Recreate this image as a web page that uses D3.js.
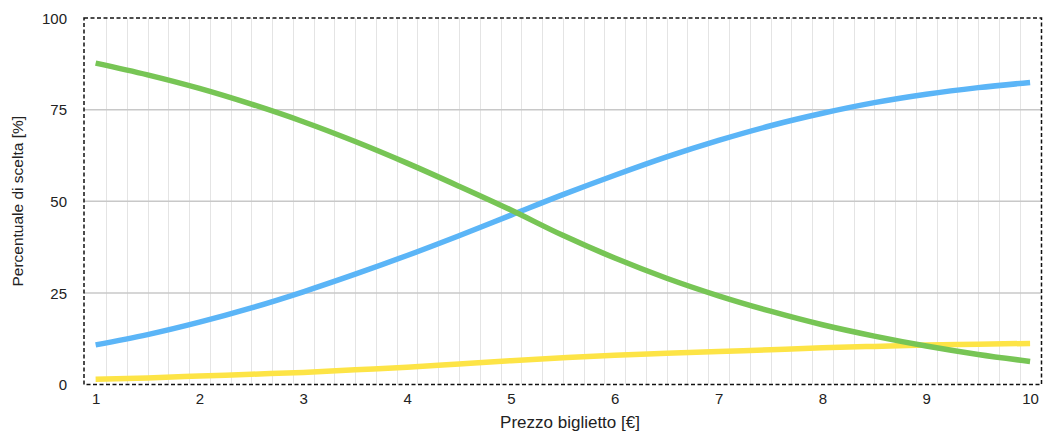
<!DOCTYPE html>
<html>
<head>
<meta charset="utf-8">
<script src="https://cdn.jsdelivr.net/npm/d3@7"></script>
<style>
  html, body { margin: 0; padding: 0; background: #fff; }
  text { font-family: "Liberation Sans", Arial, Helvetica, sans-serif; fill: #222; }
</style>
</head>
<body>
<svg id="chart" width="1047" height="434"></svg>
<script>
// ---- Data ----
const prices = [1, 1.5, 2, 2.5, 3, 3.5, 4, 4.5, 5, 5.5, 6, 6.5, 7, 7.5, 8, 8.5, 9, 9.5, 10];
const greenSeries = [87.7, 84.5, 80.8, 76.5, 71.7, 66.3, 60.4, 54.1, 47.6, 40.7, 34.5, 29.0, 24.2, 20.0, 16.3, 13.2, 10.5, 8.2, 6.3];
const blueSeries = [10.8, 13.6, 17.0, 20.9, 25.3, 30.1, 35.2, 40.6, 46.2, 51.8, 57.1, 62.1, 66.6, 70.6, 74.0, 76.9, 79.2, 81.0, 82.4];
const yellowSeries = [1.4, 1.8, 2.3, 2.8, 3.3, 4.0, 4.7, 5.6, 6.5, 7.3, 8.0, 8.5, 9.0, 9.5, 10.0, 10.4, 10.8, 11.0, 11.2];
const xTicks = [1, 2, 3, 4, 5, 6, 7, 8, 9, 10];
const yTicks = [0, 25, 50, 75, 100];
const minorGrid = d3.range(1.1, 10.0, 0.2);
const xTitle = "Prezzo biglietto [€]";
const yTitle = "Percentuale di scelta [%]";

(function () {
// ---- Layout ----
const svg = d3.select("#chart");
const pLeft = 84, pRight = 1041.5, pTop = 18, pBottom = 384.5;

const x = d3.scaleLinear().domain([0.888, 10.11]).range([pLeft, pRight]);
const y = d3.scaleLinear().domain([0, 100]).range([pBottom, pTop]);

// minor vertical grid
svg.append("g").selectAll("line").data(minorGrid).join("line")
  .attr("x1", d => Math.round(x(d)) + 0.5).attr("x2", d => Math.round(x(d)) + 0.5)
  .attr("y1", pTop).attr("y2", pBottom)
  .attr("stroke", "#e4e4e4").attr("stroke-width", 1);

// horizontal grid
svg.append("g").selectAll("line").data(yTicks.filter(d => d > 0 && d < 100)).join("line")
  .attr("x1", pLeft).attr("x2", pRight)
  .attr("y1", d => y(d)).attr("y2", d => y(d))
  .attr("stroke", "#c8c8c8").attr("stroke-width", 1.5);

// lines
const line = d3.line().x((d, i) => x(prices[i])).y(d => y(d)).curve(d3.curveMonotoneX);
const series = [
  { values: yellowSeries, color: "#fde446" },
  { values: blueSeries, color: "#5bb5f7" },
  { values: greenSeries, color: "#77c555" }
];
svg.append("g").selectAll("path").data(series).join("path")
  .attr("d", d => line(d.values))
  .attr("fill", "none")
  .attr("stroke", d => d.color)
  .attr("stroke-width", 5.5);

// dashed border
svg.append("rect")
  .attr("x", pLeft).attr("y", pTop)
  .attr("width", pRight - pLeft).attr("height", pBottom - pTop)
  .attr("fill", "none").attr("stroke", "#111")
  .attr("stroke-width", 1.5).attr("stroke-dasharray", "4,2.5");

// x axis labels
const xAxis = d3.axisBottom(x).tickValues(xTicks).tickSize(0).tickPadding(0).tickFormat(d3.format("d"));
const gx = svg.append("g").attr("transform", `translate(0, ${pBottom})`).call(xAxis);
gx.select(".domain").remove();
gx.selectAll("text").attr("font-size", 15).attr("fill", "#222")
  .attr("font-family", "Liberation Sans, Arial, sans-serif")
  .attr("dy", null).attr("y", 19.5);

// y axis labels
const yAxis = d3.axisLeft(y).tickValues(yTicks).tickSize(0).tickPadding(0).tickFormat(d3.format("d"));
const gy = svg.append("g").attr("transform", `translate(67, 0)`).call(yAxis);
gy.select(".domain").remove();
gy.selectAll("text").attr("font-size", 15).attr("fill", "#222")
  .attr("font-family", "Liberation Sans, Arial, sans-serif")
  .attr("dy", "0.35em");

// titles
svg.append("text")
  .attr("x", 570).attr("y", 428)
  .attr("text-anchor", "middle").attr("font-size", 17)
  .text(xTitle);

svg.append("text")
  .attr("transform", `translate(23, ${(pTop + pBottom) / 2}) rotate(-90)`)
  .attr("text-anchor", "middle").attr("font-size", 15.5)
  .text(yTitle);
})();
</script>
</body>
</html>
